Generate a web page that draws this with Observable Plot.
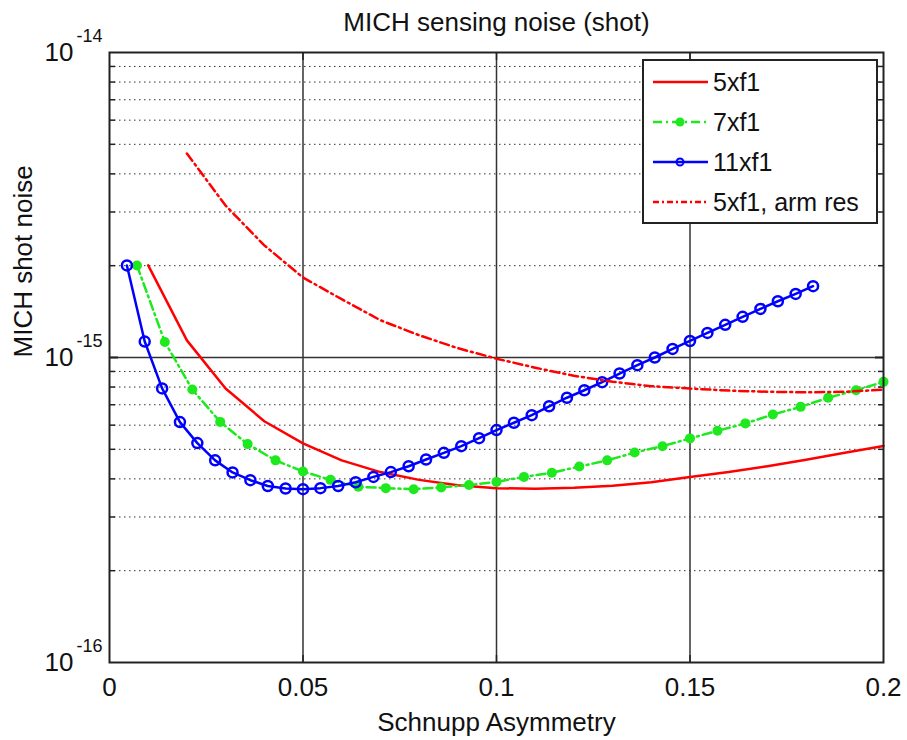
<!DOCTYPE html>
<html><head><meta charset="utf-8">
<script src="https://cdn.jsdelivr.net/npm/d3@7"></script>
<script src="https://cdn.jsdelivr.net/npm/@observablehq/plot@0.6"></script>
<style>body{margin:0;background:#fff} svg{display:block}</style>
</head><body><div id="chart"></div>
<script>
// ---- data ----
const seriesNames = ["5xf1", "7xf1", "11xf1", "5xf1, arm res"];

const x5 = [0.01,0.02,0.03,0.04,0.05,0.06,0.07,0.08,0.09,0.10,0.11,0.12,0.13,0.14,0.15,0.16,0.17,0.18,0.19,0.20];
const y5 = [2.004e-15,1.138e-15,0.791e-15,0.618e-15,0.523e-15,0.460e-15,0.421e-15,0.397e-15,0.381e-15,0.373e-15,0.371e-15,0.374e-15,0.380e-15,0.390e-15,0.406e-15,0.421e-15,0.440e-15,0.462e-15,0.487e-15,0.513e-15];

const x7 = [0.0071,0.0143,0.0214,0.0286,0.0357,0.0429,0.05,0.0571,0.0643,0.0714,0.0786,0.0857,0.0929,0.1,0.1071,0.1143,0.1214,0.1286,0.1357,0.1429,0.15,0.1571,0.1643,0.1714,0.1786,0.1857,0.1929,0.2];
const y7 = [2.004e-15,1.124e-15,0.785e-15,0.615e-15,0.520e-15,0.460e-15,0.423e-15,0.397e-15,0.377e-15,0.373e-15,0.370e-15,0.375e-15,0.382e-15,0.391e-15,0.406e-15,0.419e-15,0.439e-15,0.460e-15,0.488e-15,0.512e-15,0.543e-15,0.575e-15,0.608e-15,0.650e-15,0.689e-15,0.738e-15,0.781e-15,0.832e-15];

const x11 = [0.0045,0.0091,0.0136,0.0182,0.0227,0.0273,0.0318,0.0364,0.0409,0.0455,0.05,0.0545,0.0591,0.0636,0.0682,0.0727,0.0773,0.0818,0.0864,0.0909,0.0955,0.1,0.1045,0.1091,0.1136,0.1182,0.1227,0.1273,0.1318,0.1364,0.1409,0.1455,0.15,0.1545,0.1591,0.1636,0.1682,0.1727,0.1773,0.1818];
const y11 = [2.004e-15,1.128e-15,0.792e-15,0.614e-15,0.524e-15,0.460e-15,0.420e-15,0.396e-15,0.379e-15,0.372e-15,0.370e-15,0.373e-15,0.379e-15,0.390e-15,0.406e-15,0.421e-15,0.440e-15,0.463e-15,0.487e-15,0.512e-15,0.544e-15,0.578e-15,0.611e-15,0.647e-15,0.692e-15,0.738e-15,0.781e-15,0.830e-15,0.886e-15,0.944e-15,1.000e-15,1.067e-15,1.133e-15,1.204e-15,1.280e-15,1.359e-15,1.443e-15,1.529e-15,1.616e-15,1.713e-15];

const xArm = [0.02,0.03,0.04,0.05,0.06,0.07,0.08,0.09,0.10,0.11,0.12,0.13,0.14,0.15,0.16,0.17,0.18,0.19,0.20];
const yArm = [4.666e-15,3.148e-15,2.332e-15,1.829e-15,1.553e-15,1.325e-15,1.183e-15,1.073e-15,0.991e-15,0.926e-15,0.871e-15,0.833e-15,0.805e-15,0.791e-15,0.779e-15,0.772e-15,0.769e-15,0.772e-15,0.784e-15];

const xTicks = [0, 0.05, 0.1, 0.15, 0.2];
const xTickLabels = ["0", "0.05", "0.1", "0.15", "0.2"];
const yMajor = [1e-16, 1e-15, 1e-14];
const yBaseLabel = "10";
const yExpLabels = ["-16", "-15", "-14"];
const yMinor = [2e-16,3e-16,4e-16,5e-16,6e-16,7e-16,8e-16,9e-16,2e-15,3e-15,4e-15,5e-15,6e-15,7e-15,8e-15,9e-15];

const titleText = "MICH sensing noise (shot)";
const xLabel = "Schnupp Asymmetry";
const yLabel = "MICH shot noise";

// ---- styles ----
const RED = "#ff0000", GREEN = "#1ee81e", BLUE = "#0000ff";
const DASHDOT = "9,4,2,4";
const FONT = "Liberation Sans, Arial, sans-serif";
const FS = 26;

const rows = (xs, ys) => xs.map((x, i) => ({x, y: ys[i]}));
const d5 = rows(x5, y5), d7 = rows(x7, y7), d11 = rows(x11, y11), dArm = rows(xArm, yArm);

const W = 907, H = 740, ML = 109, MR = 24, MT = 52, MB = 78;
const tickStyle = {tickFormat: () => "", stroke: "#222", label: null};

const plot = Plot.plot({
  width: W, height: H,
  marginLeft: ML, marginRight: MR, marginTop: MT, marginBottom: MB,
  style: {fontFamily: FONT, background: "white", color: "#111"},
  x: {domain: [0, 0.2], label: null},
  y: {type: "log", domain: [1e-16, 1e-14], label: null},
  marks: [
    Plot.gridY(yMinor, {stroke: "#333", strokeOpacity: 1, strokeDasharray: "1.5,3.5", strokeWidth: 1}),
    Plot.gridX([0.05, 0.1, 0.15], {stroke: "#333", strokeOpacity: 1, strokeWidth: 1.5}),
    Plot.gridY([1e-15], {stroke: "#333", strokeOpacity: 1, strokeWidth: 1.5}),
    // inward ticks
    Plot.axisX([0.05, 0.1, 0.15], {anchor: "bottom", tickSize: -7, strokeWidth: 1.5, ...tickStyle}),
    Plot.axisX([0.05, 0.1, 0.15], {anchor: "top", tickSize: -7, strokeWidth: 1.5, ...tickStyle}),
    Plot.axisY(yMinor, {anchor: "left", tickSize: -6, strokeWidth: 1.5, ...tickStyle}),
    Plot.axisY(yMinor, {anchor: "right", tickSize: -6, strokeWidth: 1.5, ...tickStyle}),
    Plot.axisY([1e-15], {anchor: "left", tickSize: -9, strokeWidth: 2, ...tickStyle}),
    Plot.axisY([1e-15], {anchor: "right", tickSize: -9, strokeWidth: 2, ...tickStyle}),
    // tick labels
    Plot.axisX(xTicks, {anchor: "bottom", tickSize: 0, tickPadding: 15, fontSize: FS, label: null,
      tickFormat: d => xTickLabels[xTicks.indexOf(d)]}),
    Plot.axisY(yMajor, {anchor: "left", tickSize: 0, tickPadding: 36, fontSize: FS, label: null, tickFormat: () => yBaseLabel}),
    Plot.axisY(yMajor, {anchor: "left", tickSize: 0, tickPadding: 0, fontSize: 18, textAnchor: "start", dx: -33, dy: -16, label: null,
      tickFormat: d => yExpLabels[yMajor.indexOf(d)]}),
    // data
    Plot.line(d5, {x: "x", y: "y", stroke: RED, strokeWidth: 2.5}),
    Plot.line(d7, {x: "x", y: "y", stroke: GREEN, strokeWidth: 2.5, strokeDasharray: DASHDOT}),
    Plot.dot(d7, {x: "x", y: "y", fill: GREEN, r: 5}),
    Plot.line(d11, {x: "x", y: "y", stroke: BLUE, strokeWidth: 2.5}),
    Plot.dot(d11, {x: "x", y: "y", stroke: BLUE, fill: "none", r: 5, strokeWidth: 2.5}),
    Plot.line(dArm, {x: "x", y: "y", stroke: RED, strokeWidth: 2.5, strokeDasharray: DASHDOT}),
    Plot.frame({stroke: "#222", strokeWidth: 2}),
    // titles
    Plot.text([titleText], {frameAnchor: "top", lineAnchor: "middle", dy: -30, fontSize: FS, fill: "#111"}),
    Plot.text([xLabel], {frameAnchor: "bottom", lineAnchor: "middle", dy: 60, fontSize: FS, fill: "#111"}),
    Plot.text([yLabel], {frameAnchor: "left", lineAnchor: "middle", dx: -86, rotate: -90, fontSize: FS, fill: "#111"})
  ]
});

// ---- legend (drawn inside the axes, top-right) ----
const svg = d3.select(plot);
const lx = W - MR - 240, ly = MT + 8, lw = 234, lh = 163;
const lg = svg.append("g").attr("font-family", FONT).attr("font-size", 25);
lg.append("rect").attr("x", lx).attr("y", ly).attr("width", lw).attr("height", lh)
  .attr("fill", "white").attr("stroke", "#222").attr("stroke-width", 2);
const styles = [
  {stroke: RED, dash: null, marker: null},
  {stroke: GREEN, dash: DASHDOT, marker: "dot"},
  {stroke: BLUE, dash: null, marker: "circle"},
  {stroke: RED, dash: "6,3,2,3", marker: null}
];
seriesNames.forEach((name, i) => {
  const cy = ly + 22 + i * 40;
  const s = styles[i];
  const ln = lg.append("line").attr("x1", lx + 10).attr("x2", lx + 65).attr("y1", cy).attr("y2", cy)
    .attr("stroke", s.stroke).attr("stroke-width", 2.5);
  if (s.dash) ln.attr("stroke-dasharray", s.dash);
  if (s.marker === "dot") lg.append("circle").attr("cx", lx + 37).attr("cy", cy).attr("r", 4.5).attr("fill", s.stroke);
  if (s.marker === "circle") lg.append("circle").attr("cx", lx + 37).attr("cy", cy).attr("r", 3.5).attr("fill", "none").attr("stroke", s.stroke).attr("stroke-width", 2);
  lg.append("text").attr("x", lx + 70).attr("y", cy).attr("dy", "0.35em").attr("text-anchor", "start").attr("fill", "#111").text(name);
});

document.getElementById("chart").appendChild(plot);
</script>
</body></html>
